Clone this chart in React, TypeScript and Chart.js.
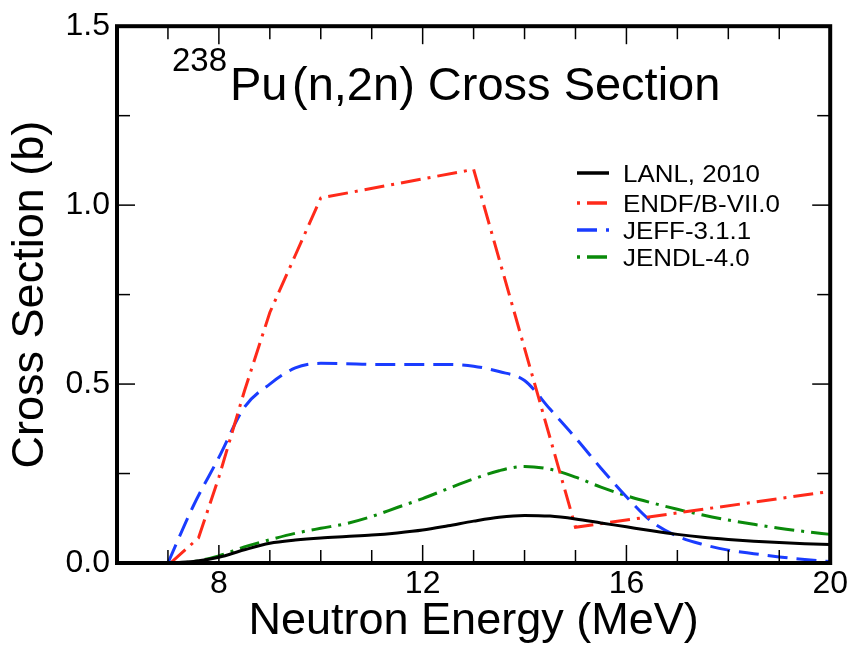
import React, { useEffect, useRef } from 'react';
import { Chart, registerables } from 'chart.js';

Chart.register(...registerables);

const FONT = "'Liberation Sans', Arial, Helvetica, sans-serif";

const SERIES_NAMES = ['LANL, 2010', 'ENDF/B-VII.0', 'JEFF-3.1.1', 'JENDL-4.0'];
const SERIES_COLORS = ['#000000', '#ff2a1a', '#1a3cff', '#0a8a0a'];

// common energy grid (MeV) for the smooth evaluations
const ENERGY = [7, 7.5, 8, 8.5, 9, 9.5, 10, 10.5, 11, 11.5, 12, 12.5, 13, 13.5, 14, 14.5, 15, 15.5, 16, 16.5, 17, 17.5, 18, 18.5, 19, 19.5, 20];

const LANL = [0, 0.004, 0.016, 0.037, 0.055, 0.064, 0.07, 0.074, 0.078, 0.084, 0.092, 0.104, 0.117, 0.128, 0.133, 0.131, 0.123, 0.112, 0.101, 0.09, 0.08, 0.072, 0.066, 0.061, 0.057, 0.054, 0.052];
const JEFF = [0, 0.16, 0.295, 0.435, 0.5, 0.545, 0.558, 0.557, 0.555, 0.555, 0.555, 0.555, 0.55, 0.535, 0.51, 0.43, 0.35, 0.265, 0.185, 0.115, 0.075, 0.052, 0.036, 0.026, 0.017, 0.01, 0.004];
const JENDL = [0, 0.004, 0.02, 0.045, 0.065, 0.083, 0.097, 0.11, 0.13, 0.155, 0.18, 0.208, 0.235, 0.258, 0.27, 0.262, 0.24, 0.212, 0.188, 0.168, 0.15, 0.134, 0.12, 0.108, 0.097, 0.088, 0.08];

// ENDF/B-VII.0 is piecewise linear on its own grid
const ENDF_ENERGY = [7.05, 7.6, 8, 8.5, 9, 9.5, 10, 13, 15, 20];
const ENDF = [0, 0.07, 0.24, 0.48, 0.7, 0.86, 1.02, 1.1, 0.1, 0.2];

const X_TICKS = [8, 12, 16, 20];
const X_MINOR = [7, 9, 10, 11, 13, 14, 15, 17, 18, 19];
const Y_TICKS = [0, 0.5, 1.0, 1.5];
const Y_MINOR = [0.25, 0.75, 1.25];

const DASH_DOT = [20, 7, 3, 7];
const DASHED = [20, 9];
const SERIES_DASH = [[], DASH_DOT, DASHED, DASH_DOT];

const toXY = (xs: number[], ys: number[]) => xs.map((x, i) => ({ x, y: ys[i] }));

const decor = {
  id: 'decor',
  afterDatasetsDraw(chart: any) {
    const { ctx, chartArea: a, scales } = chart;
    const xs = scales.x;
    const ys = scales.y;
    ctx.save();
    ctx.strokeStyle = '#000';
    ctx.setLineDash([]);
    ctx.lineCap = 'butt';
    const line = (x1: number, y1: number, x2: number, y2: number) => {
      ctx.beginPath();
      ctx.moveTo(x1, y1);
      ctx.lineTo(x2, y2);
      ctx.stroke();
    };
    ctx.lineWidth = 1.5;
    const xTick = (v: number, len: number) => {
      const p = xs.getPixelForValue(v);
      line(p, a.bottom, p, a.bottom - len);
      line(p, a.top, p, a.top + len);
    };
    const yTick = (v: number, len: number) => {
      const p = ys.getPixelForValue(v);
      line(a.left, p, a.left + len, p);
      line(a.right, p, a.right - len, p);
    };
    X_TICKS.forEach((v) => xTick(v, 18));
    X_MINOR.forEach((v) => xTick(v, 13));
    Y_TICKS.forEach((v) => yTick(v, 18));
    Y_MINOR.forEach((v) => yTick(v, 13));

    ctx.lineWidth = 4;
    ctx.strokeRect(a.left, a.top, a.right - a.left, a.bottom - a.top);

    // title inside the plot
    ctx.fillStyle = '#000';
    ctx.textAlign = 'left';
    ctx.textBaseline = 'alphabetic';
    ctx.font = `33px ${FONT}`;
    ctx.fillText('238', a.left + 55, 71);
    ctx.font = `47px ${FONT}`;
    ctx.fillText('Pu', a.left + 113, 100);
    ctx.fillText('(n,2n) Cross Section', a.left + 175, 100);

    // legend
    const lx = a.left + 460;
    const rows = [173, 203, 230, 257];
    SERIES_NAMES.forEach((name, i) => {
      const yy = rows[i];
      ctx.save();
      ctx.strokeStyle = SERIES_COLORS[i];
      ctx.lineWidth = 3.5;
      const dash = SERIES_DASH[i];
      ctx.setLineDash(dash);
      if (dash === DASH_DOT) ctx.lineDashOffset = 27;
      else ctx.lineDashOffset = 0;
      line(lx, yy, lx + 32, yy);
      ctx.restore();
      ctx.save();
      ctx.fillStyle = '#000';
      ctx.font = `24px ${FONT}`;
      ctx.translate(lx + 46, yy + 9);
      ctx.scale(1.08, 1);
      ctx.fillText(name, 0, 0);
      ctx.restore();
    });
    ctx.restore();
  },
};

export default function App() {
  const ref = useRef<HTMLCanvasElement | null>(null);
  useEffect(() => {
    document.body.style.margin = '0';
    const canvas = ref.current;
    if (!canvas) return;
    const datasets = [
      { label: SERIES_NAMES[0], data: toXY(ENERGY, LANL), cubicInterpolationMode: 'monotone' },
      { label: SERIES_NAMES[1], data: toXY(ENDF_ENERGY, ENDF), tension: 0 },
      { label: SERIES_NAMES[2], data: toXY(ENERGY, JEFF), cubicInterpolationMode: 'monotone' },
      { label: SERIES_NAMES[3], data: toXY(ENERGY, JENDL), cubicInterpolationMode: 'monotone' },
    ].map((d, i) => ({
      ...d,
      borderColor: SERIES_COLORS[i],
      backgroundColor: SERIES_COLORS[i],
      borderWidth: 3,
      borderDash: SERIES_DASH[i],
      pointRadius: 0,
      fill: false,
    }));
    const chart = new Chart(canvas, {
      type: 'line',
      data: { datasets } as any,
      options: {
        animation: false,
        responsive: false,
        devicePixelRatio: 1,
        layout: { padding: { top: 23, right: 19, left: 0, bottom: 0 } },
        plugins: { legend: { display: false }, tooltip: { enabled: false }, title: { display: false } },
        scales: {
          x: {
            type: 'linear',
            min: 6,
            max: 20,
            afterBuildTicks: (s: any) => {
              s.ticks = X_TICKS.map((v) => ({ value: v }));
            },
            afterFit: (s: any) => {
              s.height = 83;
            },
            grid: { display: false, drawTicks: false },
            border: { display: false },
            ticks: {
              autoSkip: false,
              maxRotation: 0,
              padding: 2,
              color: '#000',
              font: { family: FONT, size: 32 },
              callback: (v: any) => String(v),
            },
            title: {
              display: true,
              text: 'Neutron Energy (MeV)',
              color: '#000',
              font: { family: FONT, size: 45, lineHeight: 1.1 },
              padding: { top: 0, bottom: 0 },
            },
          },
          y: {
            type: 'linear',
            min: 0,
            max: 1.5,
            afterBuildTicks: (s: any) => {
              s.ticks = Y_TICKS.map((v) => ({ value: v }));
            },
            afterFit: (s: any) => {
              s.width = 117;
            },
            grid: { display: false, drawTicks: false },
            border: { display: false },
            ticks: {
              autoSkip: false,
              padding: 7,
              color: '#000',
              font: { family: FONT, size: 32 },
              callback: (v: any) => Number(v).toFixed(1),
            },
            title: {
              display: true,
              text: 'Cross Section (b)',
              color: '#000',
              font: { family: FONT, size: 45, lineHeight: 1.2 },
              padding: { top: 4, bottom: 4 },
            },
          },
        },
      } as any,
      plugins: [decor],
    });
    return () => chart.destroy();
  }, []);
  return (
    <div style={{ position: 'absolute', left: 0, top: 0, width: 850, height: 646, background: '#fff' }}>
      <canvas ref={ref} width={850} height={646} style={{ width: 850, height: 646, display: 'block' }} />
    </div>
  );
}
